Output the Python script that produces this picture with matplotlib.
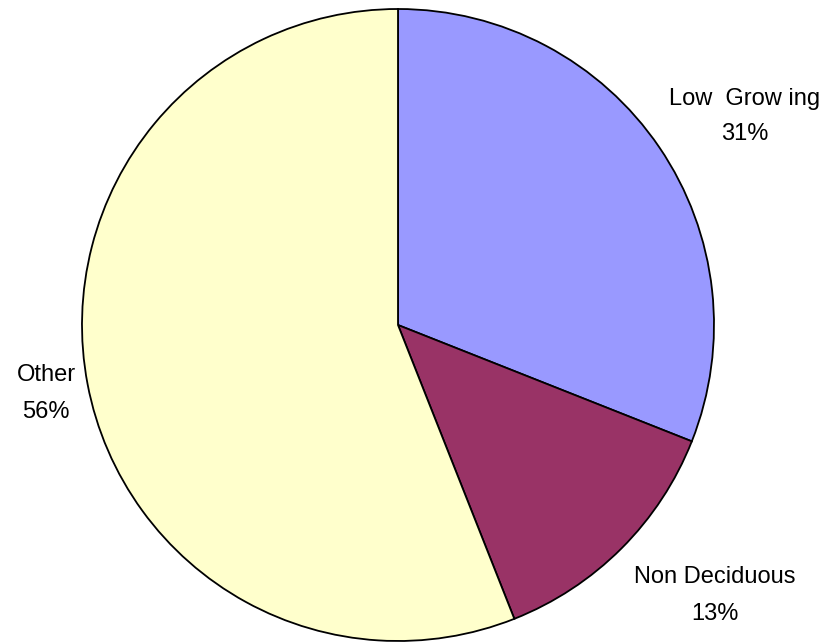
import matplotlib
matplotlib.use("Agg")
import matplotlib.pyplot as plt

plt.rcParams['font.family'] = ['Liberation Sans', 'DejaVu Sans']

# data
labels  = ["Low  Grow ing", "Non Deciduous", "Other"]
shares  = [31, 13, 56]
colors  = ["#9999FF", "#993366", "#FFFFCC"]
# label placement: x centre, baseline of name, baseline of percent (px from top)
label_pos = [(745, 105, 140), (715, 583, 620), (46, 381, 418)]

W, H = 830, 642
fig = plt.figure(figsize=(W / 100, H / 100), dpi=100)
ax = fig.add_axes([0, 0, 1, 1])

ax.pie(shares, colors=colors, startangle=90, counterclock=False,
       center=(398, H - 325), radius=316, frame=False,
       wedgeprops=dict(edgecolor="black", linewidth=1.3))
ax.set_xlim(0, W); ax.set_ylim(0, H)
ax.set_aspect("equal"); ax.axis("off")

for lbl, val, (x, y1, y2) in zip(labels, shares, label_pos):
    ax.text(x, H - y1, lbl, ha="center", va="baseline", fontsize=17)
    ax.text(x, H - y2, f"{val}%", ha="center", va="baseline", fontsize=17)

fig.savefig("out.png", dpi=100)
